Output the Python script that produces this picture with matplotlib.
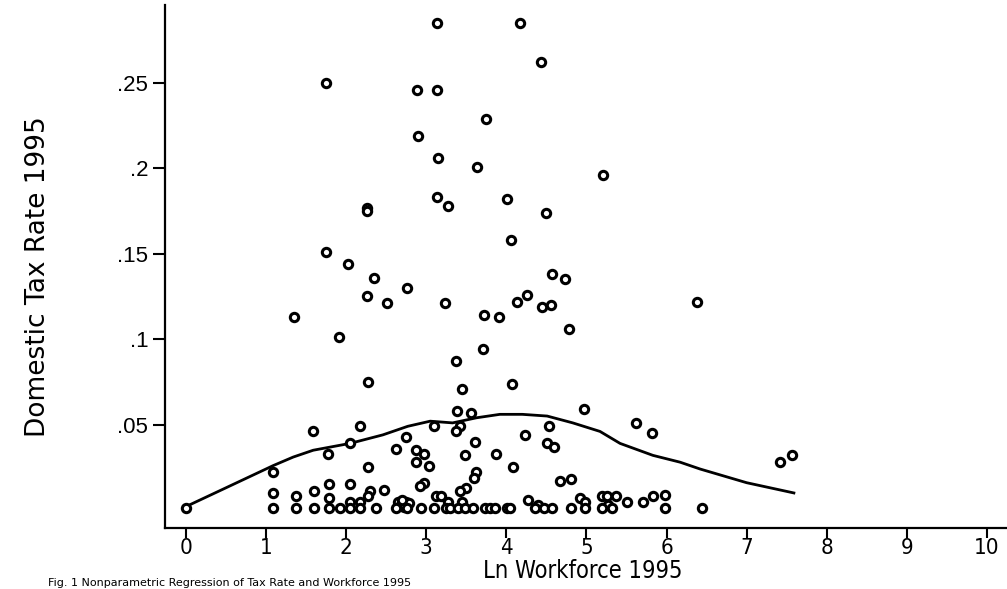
import numpy as np
import matplotlib
matplotlib.use("Agg")
import matplotlib.pyplot as plt

# scatter: Ln Workforce 1995 vs Domestic Tax Rate 1995
ln_workforce = [
    3.13, 4.17, 4.43, 1.75, 2.88, 3.13, 3.75, 2.90, 3.15, 3.63,
    5.21, 3.13, 4.01, 3.27, 2.26, 2.26, 4.49, 4.06, 1.75, 2.03,
    4.57, 2.35, 4.73, 2.76, 4.26, 2.26, 4.13, 6.38, 2.51, 3.23,
    4.56, 4.44, 3.72, 1.35, 3.91, 4.78, 1.91, 3.71, 3.37, 2.27,
    4.07, 3.45, 4.97, 3.38, 3.56, 5.62, 2.17, 3.10, 3.42, 4.53,
    1.59, 3.37, 5.82, 2.75, 4.23, 3.61, 2.05, 4.51, 4.59, 2.62,
    2.87, 1.77, 2.97, 3.87, 3.48, 7.57, 7.42, 2.87, 3.03, 2.28,
    4.08, 1.09, 3.62, 3.60, 4.81, 4.67, 2.97, 1.79, 2.05, 2.92,
    3.50, 2.47, 1.60, 2.30, 3.42, 1.09, 5.98, 1.37, 2.27, 3.12,
    3.18, 5.19, 5.26, 5.37, 5.83, 1.79, 4.92, 4.27, 2.05, 2.18,
    2.65, 2.75, 3.27, 3.45, 4.98, 5.51, 5.71, 4.40, 5.27, 2.68,
    2.72, 2.78, 2.70,
    0.00, 1.09, 1.37, 1.60, 1.79, 1.92, 2.05, 2.18, 2.37, 2.62,
    2.76, 2.93, 3.10, 3.25, 3.30, 3.40, 3.48, 3.58, 3.73, 3.80,
    3.86, 4.01, 4.05, 4.36, 4.47, 4.57, 4.81, 4.98, 5.19, 5.32,
    5.98, 6.44,
]
tax_rate = [
    0.285, 0.285, 0.262, 0.250, 0.246, 0.246, 0.229, 0.219, 0.206, 0.201,
    0.196, 0.183, 0.182, 0.178, 0.177, 0.175, 0.174, 0.158, 0.151, 0.144,
    0.138, 0.136, 0.135, 0.130, 0.126, 0.125, 0.122, 0.122, 0.121, 0.121,
    0.120, 0.119, 0.114, 0.113, 0.113, 0.106, 0.101, 0.094, 0.087, 0.075,
    0.074, 0.071, 0.059, 0.058, 0.057, 0.051, 0.049, 0.049, 0.049, 0.049,
    0.046, 0.046, 0.045, 0.043, 0.044, 0.040, 0.039, 0.039, 0.037, 0.036,
    0.035, 0.033, 0.033, 0.033, 0.032, 0.032, 0.028, 0.028, 0.026, 0.025,
    0.025, 0.022, 0.022, 0.019, 0.018, 0.017, 0.016, 0.015, 0.015, 0.014,
    0.013, 0.012, 0.011, 0.011, 0.011, 0.010, 0.009, 0.008, 0.008, 0.008,
    0.008, 0.008, 0.008, 0.008, 0.008, 0.007, 0.007, 0.006, 0.005, 0.005,
    0.005, 0.005, 0.005, 0.005, 0.005, 0.005, 0.005, 0.003, 0.003, 0.003,
    0.002, 0.004, 0.006,
    0.001, 0.001, 0.001, 0.001, 0.001, 0.001, 0.001, 0.001, 0.001, 0.001,
    0.001, 0.001, 0.001, 0.001, 0.001, 0.001, 0.001, 0.001, 0.001, 0.001,
    0.001, 0.001, 0.001, 0.001, 0.001, 0.001, 0.001, 0.001, 0.001, 0.001,
    0.001, 0.001,
]

# smoothed (nonparametric) fit
smooth_x = [0.0, 0.5, 1.09, 1.34, 1.59, 2.05, 2.46, 2.77, 3.05, 3.33, 3.63,
            3.92, 4.2, 4.51, 4.83, 5.17, 5.42, 5.83, 6.17, 6.42, 7.0, 7.59]
smooth_y = [0.002, 0.013, 0.026, 0.031, 0.035, 0.039, 0.044, 0.049, 0.052,
            0.051, 0.054, 0.056, 0.056, 0.055, 0.051, 0.046, 0.039, 0.032,
            0.028, 0.024, 0.016, 0.010]

x_ticks = list(range(0, 11))
y_ticks = [0.05, 0.1, 0.15, 0.2, 0.25]
y_ticklabels = [".05", ".1", ".15", ".2", ".25"]

fig = plt.figure(figsize=(10.07, 5.89), dpi=100)
ax = fig.add_axes([165 / 1007, 61 / 589, 842 / 1007, 523 / 589])

ax.scatter(ln_workforce, tax_rate, s=36, facecolors="white",
           edgecolors="black", linewidths=2.2, zorder=3)
ax.plot(smooth_x, smooth_y, color="black", lw=2.0, zorder=2)

ax.set_xlim(-0.26, 10.25)
ax.set_ylim(-0.0105, 0.2955)

for side in ["top", "right"]:
    ax.spines[side].set_visible(False)
for side in ["left", "bottom"]:
    ax.spines[side].set_linewidth(1.6)

ax.set_xticks(x_ticks)
ax.set_xticklabels([str(t) for t in x_ticks], family="DejaVu Sans",
                   fontstretch="condensed", fontsize=16)
ax.set_yticks(y_ticks)
ax.set_yticklabels(y_ticklabels, family=["Liberation Sans", "DejaVu Sans"],
                   fontsize=16)
ax.tick_params(axis="x", direction="out", length=7, width=1.5, pad=0)
ax.tick_params(axis="y", direction="out", length=9, width=1.5, pad=3)

fig.text(38 / 1007, 1 - 277 / 589, "Domestic Tax Rate 1995", rotation=90,
         ha="center", va="center", fontsize=19, family="DejaVu Sans")
fig.text(583 / 1007, 1 - 571 / 589, "Ln Workforce 1995", ha="center",
         va="center", fontsize=17, family="DejaVu Sans",
         fontstretch="condensed")
fig.text(48 / 1007, 1 / 589,
         "Fig. 1 Nonparametric Regression of Tax Rate and Workforce 1995",
         ha="left", va="bottom", fontsize=8, family="DejaVu Sans")

fig.savefig("out.png", dpi=100)
